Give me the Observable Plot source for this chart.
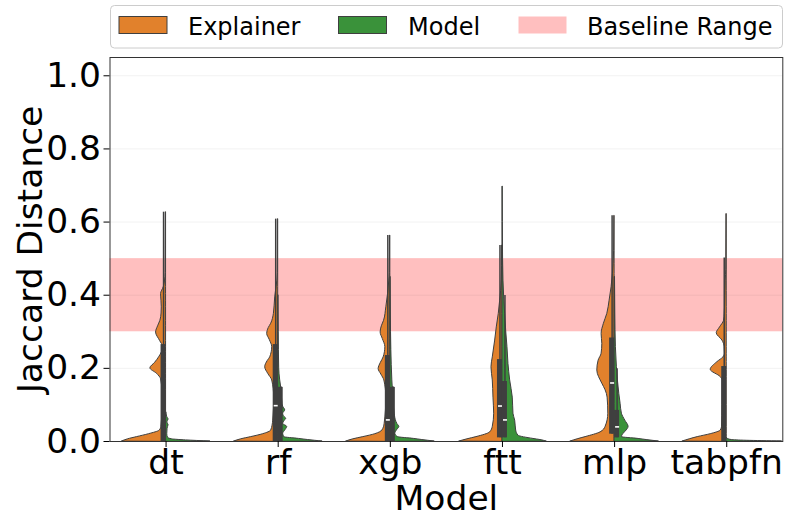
<!DOCTYPE html>
<html>
<head>
<meta charset="utf-8">
<script src="https://cdn.jsdelivr.net/npm/d3@7"></script>
<script src="https://cdn.jsdelivr.net/npm/@observablehq/plot@0.6"></script>
<style>
  html, body { margin: 0; padding: 0; background: #fff; }
  svg { font-family: "DejaVu Sans", sans-serif; }
</style>
</head>
<body>
<div id="chart"></div>
<script>
// ---------------- data ----------------
const models = ["dt", "rf", "xgb", "ftt", "mlp", "tabpfn"];
const yTicks = [0, 0.2, 0.4, 0.6, 0.8, 1.0];
const baselineRange = [0.3, 0.5];
const seriesNames = ["Explainer", "Model", "Baseline Range"];

// half-violin density profiles: [jaccard value, density]
const explainerProfiles = [
  [[0,44],[0.006,38],[0.012,29],[0.02,17],[0.03,6.3],[0.04,4.7],[0.08,3.8],[0.14,3.8],[0.17,5],[0.185,9],[0.2,15.7],[0.215,11],[0.23,7],[0.245,4],[0.258,3],[0.275,6],[0.298,10],[0.315,8],[0.33,5.7],[0.35,4.5],[0.367,4.3],[0.385,4.6],[0.403,5],[0.422,2.3],[0.44,1],[0.46,0.5],[0.627,0.3]],
  [[0,44],[0.006,37],[0.012,27],[0.02,15],[0.03,7],[0.057,5],[0.12,4],[0.167,6],[0.185,10],[0.203,13],[0.22,10.5],[0.23,8],[0.258,6],[0.278,8.5],[0.294,11],[0.31,9.5],[0.322,7],[0.349,4.3],[0.394,3],[0.422,1.7],[0.44,0.8],[0.46,0.4],[0.608,0.3]],
  [[0,44],[0.006,37],[0.012,27],[0.02,15],[0.03,8],[0.048,5.7],[0.12,4],[0.167,6],[0.183,9],[0.198,11.7],[0.215,9.5],[0.23,6.7],[0.258,5],[0.28,7.5],[0.298,9.7],[0.315,8.5],[0.33,6.3],[0.367,4],[0.403,2.3],[0.44,1],[0.46,0.5],[0.563,0.3]],
  [[0,43],[0.006,35],[0.012,26],[0.025,12.3],[0.04,9.7],[0.076,8.3],[0.12,9],[0.167,9.7],[0.203,11],[0.23,9.7],[0.276,7.3],[0.312,5.7],[0.349,3.7],[0.385,2.3],[0.412,1.3],[0.44,0.7],[0.48,0.4],[0.536,0.3]],
  [[0,44],[0.006,37],[0.012,29],[0.025,14],[0.04,9],[0.076,6.3],[0.12,7],[0.14,9],[0.158,12.3],[0.194,17.3],[0.221,16],[0.24,13],[0.267,12.3],[0.294,13],[0.322,10.7],[0.349,7.3],[0.385,5],[0.422,3],[0.458,1.7],[0.486,1],[0.52,0.5],[0.617,0.3]],
  [[0,44],[0.006,37],[0.012,29],[0.02,16],[0.03,6],[0.04,4.7],[0.1,4.3],[0.167,4.3],[0.176,6],[0.196,16],[0.217,9.3],[0.23,3.3],[0.24,1.7],[0.258,2],[0.276,4.3],[0.296,10],[0.312,6.7],[0.33,2.7],[0.349,2],[0.367,1.7],[0.412,1.3],[0.44,1],[0.47,0.5],[0.622,0.3]]
];
const modelProfiles = [
  [[0,44],[0.003,20],[0.006,6],[0.01,2],[0.02,1.2],[0.035,1.5],[0.045,2.5],[0.052,1.2],[0.06,2.5],[0.068,1],[0.08,0.4]],
  [[0,44],[0.004,30],[0.007,21],[0.012,6],[0.021,5],[0.03,7],[0.04,9],[0.048,5],[0.055,6],[0.062,8],[0.07,5.5],[0.076,5],[0.085,7],[0.095,5],[0.103,4.3],[0.148,3],[0.167,2],[0.2,1],[0.3,0.5],[0.4,0.3]],
  [[0,44],[0.004,32],[0.007,24],[0.012,7.7],[0.021,5],[0.03,6.5],[0.04,9],[0.048,7],[0.054,6],[0.076,4.3],[0.12,3],[0.167,2],[0.25,1],[0.35,0.5],[0.45,0.3]],
  [[0,44],[0.004,38],[0.007,31],[0.016,16],[0.03,13.7],[0.057,12.7],[0.076,11],[0.12,10.3],[0.167,7.7],[0.212,6],[0.258,5],[0.303,3.7],[0.349,2.7],[0.394,1.7],[0.44,1],[0.5,0.6],[0.6,0.4],[0.697,0.3]],
  [[0,44],[0.004,32],[0.007,24],[0.012,7.3],[0.021,9],[0.03,12],[0.04,14],[0.057,10.7],[0.076,7.3],[0.103,6],[0.13,4.7],[0.167,3.3],[0.203,2.3],[0.258,1.3],[0.35,0.7],[0.45,0.4]],
  [[0,55],[0.002,20],[0.004,5],[0.008,0.5],[0.01,0.3]]
];

// inner box statistics
const explainerQ1 = [0, 0, 0, 0.01, 0.02, 0];
const explainerMedian = [null, 0.098, 0.059, 0.097, 0.160, null];
const explainerQ3 = [0.265, 0.265, 0.235, 0.224, 0.283, 0.205];
const explainerWhiskerHi = [0.627, 0.608, 0.563, 0.536, 0.617, 0.502];

const modelQ1 = [0, 0, 0, 0.01, 0.01, 0];
const modelMedian = [null, null, null, 0.059, 0.040, null];
const modelQ3 = [0, 0.148, 0.148, 0.164, 0.085, 0];
const modelWhiskerHi = [0, 0.15, 0.15, 0.399, 0.199, 0];

// ---------------- style ----------------
const orange = "#e1812c";
const green = "#3a923a";
const pink = "#ffbfbf";
const edge = "#3f3f3f";
const W = 792, H = 529;
const mL = 109.5, mR = 9.7, mT = 57, mB = 88;
const unitPx = (W - mL - mR) / models.length;
const densityScale = 1 / unitPx;   // density unit -> x units
const boxW = 5 / unitPx;
const medHalf = 2 / unitPx;

// ---------------- derived tables ----------------
function halfArea(profiles, side) {
  return profiles.flatMap((prof, i) => prof.map(([v, w]) => ({
    g: i, v,
    x1: side < 0 ? i - w * densityScale : i,
    x2: side < 0 ? i : i + w * densityScale
  })));
}
const expArea = halfArea(explainerProfiles, -1);
const modArea = halfArea(modelProfiles, 1);

function boxes(q1, q3, side) {
  return models.map((m, i) => ({i, q1: q1[i], q3: q3[i],
    x1: side < 0 ? i - boxW : i, x2: side < 0 ? i : i + boxW}))
    .filter(d => d.q3 > d.q1);
}
function whiskers(q1, hi, side) {
  return models.map((m, i) => ({i, lo: q1[i], hi: hi[i], x: i + side * boxW / 2}))
    .filter(d => d.hi > d.lo);
}
function medians(med, side) {
  return models.map((m, i) => ({i, v: med[i], x: i + side * boxW / 2}))
    .filter(d => d.v != null);
}
const boxData = [...boxes(explainerQ1, explainerQ3, -1), ...boxes(modelQ1, modelQ3, 1)];
const whiskerData = [...whiskers(explainerQ1, explainerWhiskerHi, -1), ...whiskers(modelQ1, modelWhiskerHi, 1)];
const medianData = [...medians(explainerMedian, -1), ...medians(modelMedian, 1)];

const chart = Plot.plot({
  width: W, height: H,
  marginLeft: mL, marginRight: mR, marginTop: mT, marginBottom: mB,
  style: {fontFamily: "DejaVu Sans", fontSize: "34px", color: "#000", background: "#fff"},
  x: {domain: [-0.5, models.length - 0.5]},
  y: {domain: [0, 1.05]},
  marks: [
    Plot.rect([baselineRange], {y1: d => d[0], y2: d => d[1], fill: pink}),
    Plot.ruleY(yTicks.slice(1), {stroke: "#000", strokeOpacity: 0.07, strokeWidth: 0.8}),
    Plot.areaX(expArea, {y: "v", x1: "x1", x2: "x2", z: "g", fill: orange, stroke: edge, strokeWidth: 1, curve: "monotone-y"}),
    Plot.areaX(modArea, {y: "v", x1: "x1", x2: "x2", z: "g", fill: green, stroke: edge, strokeWidth: 1, curve: "monotone-y"}),
    Plot.ruleX(whiskerData, {x: "x", y1: "lo", y2: "hi", stroke: edge, strokeWidth: 1.5}),
    Plot.rect(boxData, {x1: "x1", x2: "x2", y1: "q1", y2: "q3", fill: edge}),
    Plot.link(medianData, {x1: d => d.x - medHalf, x2: d => d.x + medHalf, y1: "v", y2: "v", stroke: "#fff", strokeWidth: 1.6}),
    Plot.frame({stroke: "#333", strokeWidth: 1}),
    Plot.axisY(yTicks, {tickFormat: d3.format(".1f"), tickSize: 6, tickPadding: 3, fontSize: 34.5, label: null, stroke: "#000"}),
    Plot.axisX(d3.range(models.length), {tickFormat: i => models[i], tickSize: 6, tickPadding: 2, fontSize: 34.5, label: null}),
    Plot.text(["Model"], {frameAnchor: "bottom", lineAnchor: "middle", textAnchor: "middle", dy: 57, fontSize: 34.5, fill: "#000"}),
    Plot.text(["Jaccard Distance"], {frameAnchor: "left", lineAnchor: "middle", textAnchor: "middle", dx: -79, rotate: -90, fontSize: 34.5, fill: "#000"})
  ]
});
document.getElementById("chart").appendChild(chart);

// ---------------- legend ----------------
const svg = d3.select(chart);
const lg = svg.append("g").attr("font-family", "DejaVu Sans").attr("font-size", 24).attr("text-anchor", "start");
lg.append("rect").attr("x", 110.5).attr("y", 5.5).attr("width", 672).attr("height", 42.5)
  .attr("rx", 4).attr("fill", "#fff").attr("stroke", "#cccccc").attr("stroke-width", 1);
const legendItems = [
  {name: seriesNames[0], fill: orange, stroke: edge, sx: 119, tx: 188},
  {name: seriesNames[1], fill: green, stroke: edge, sx: 338.5, tx: 408},
  {name: seriesNames[2], fill: pink, stroke: "none", sx: 518.5, tx: 587}
];
for (const it of legendItems) {
  lg.append("rect").attr("x", it.sx).attr("y", 16.5).attr("width", 48).attr("height", 17)
    .attr("fill", it.fill).attr("stroke", it.stroke).attr("stroke-width", 1);
  lg.append("text").attr("x", it.tx).attr("y", 34.5).attr("fill", "#000")
    .attr("font-size", 24).attr("text-anchor", "start").text(it.name);
}
</script>
</body>
</html>
